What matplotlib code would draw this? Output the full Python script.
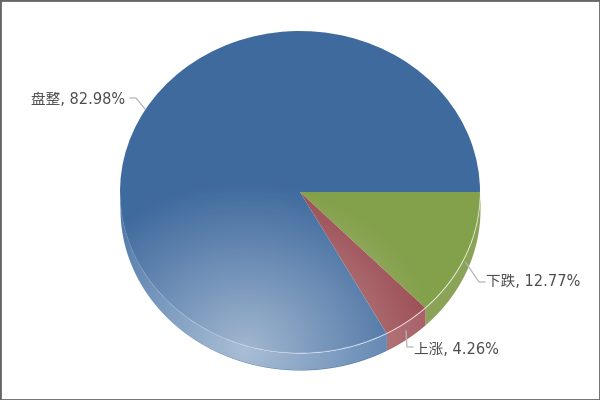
import numpy as np
import matplotlib.pyplot as plt
from matplotlib.patches import Ellipse, PathPatch, Rectangle
from matplotlib.path import Path

plt.rcParams['font.family'] = ['DejaVu Sans', 'Noto Sans CJK SC']

labels = ['下跌', '上涨', '盘整']
values = [12.77, 4.26, 82.98]
colors = ['#83A04A', '#9B4E54', '#3F6A9E']
wall_colors = ['#8AA356', '#A65E64', '#4F79AA']

W, H = 600, 400
CX, CY = 300, 192
RX, RY = 180, 161
DEPTH = 17 / RY


def px(x, y):
    # reference pixels to pie units
    return (x - CX) / RX, (CY - y) / RY


fig = plt.figure(figsize=(W / 100, H / 100), dpi=100)
ax = fig.add_axes([0, 0, 1, 1])

# side wall, one band per slice
edges = -np.cumsum([0] + values) * 3.6
for i in range(len(values)):
    a0, a1 = edges[i], max(edges[i + 1], -180)
    if a0 <= -180:
        continue
    th = np.radians(np.linspace(a0, a1, 120))
    ax.fill_between(np.cos(th), np.sin(th), np.sin(th) - DEPTH,
                    color=wall_colors[i], lw=0, zorder=1)

# top face
wedges, _ = ax.pie(values, colors=colors, startangle=0, counterclock=False,
                   radius=1, center=(0, 0),
                   wedgeprops={'linewidth': 0, 'zorder': 2})
ax.set_aspect('auto')
ax.axis('off')

# radial highlight at the bottom of the pie
xx, yy = np.meshgrid(np.linspace(-1.05, 1.05, 420), np.linspace(-1.2, 1.05, 420))
lx, ly = px(245, 350)
d = np.hypot((xx - lx) / 1.08, (yy - ly) / 1.05)
alpha = 0.52 * np.clip(1 - d, 0, 1) ** 1.05
rgba = np.ones(xx.shape + (4,))
rgba[..., 3] = alpha
ext = [-1.05, 1.05, -1.2, 1.05]

top_clip = Ellipse((0, 0), 2, 2, transform=ax.transData)
im = ax.imshow(rgba, extent=ext, origin='lower', aspect='auto', zorder=3)
im.set_clip_path(top_clip)

th = np.radians(np.linspace(0, -180, 240))
wall_xy = np.r_[np.c_[np.cos(th), np.sin(th)],
                np.c_[np.cos(th[::-1]), np.sin(th[::-1]) - DEPTH]]
wall_path = Path(wall_xy)
im2 = ax.imshow(rgba, extent=ext, origin='lower', aspect='auto', zorder=1.5)
im2.set_clip_path(PathPatch(wall_path, transform=ax.transData))
ax.set_xlim(px(0, 0)[0], px(W, 0)[0])
ax.set_ylim(px(0, H)[1], px(0, 0)[1])

# light rim between top face and wall
ax.plot(np.cos(th), np.sin(th), color='white', alpha=0.12, lw=0.8, zorder=4)

# leader lines
leaders = [[(130, 98), (136, 98), (145, 109)],
           [(485, 282), (479, 282), (466, 263)],
           [(413, 347), (407, 347), (406, 331)]]
for pts in leaders:
    p = np.array([px(*q) for q in pts])
    ax.plot(p[:, 0], p[:, 1], color='#b5b5b5', lw=0.9, zorder=5)

# labels
shares = dict(zip(labels, values))
places = {'盘整': (125, 100, 'right'), '下跌': (486, 282, 'left'), '上涨': (414, 349, 'left')}
for name, (x, y, ha) in places.items():
    lx, ly = px(x, y)
    ax.text(lx, ly, f'{name}, {shares[name]:.2f}%', ha=ha, va='center',
            fontsize=10.5, color='#4d4d4d', zorder=6)

fig.add_artist(Rectangle((0, 0), 1, 1, transform=fig.transFigure, fill=False,
                         edgecolor='#666666', lw=2, joinstyle='miter'))
fig.savefig('out.png', dpi=100)
